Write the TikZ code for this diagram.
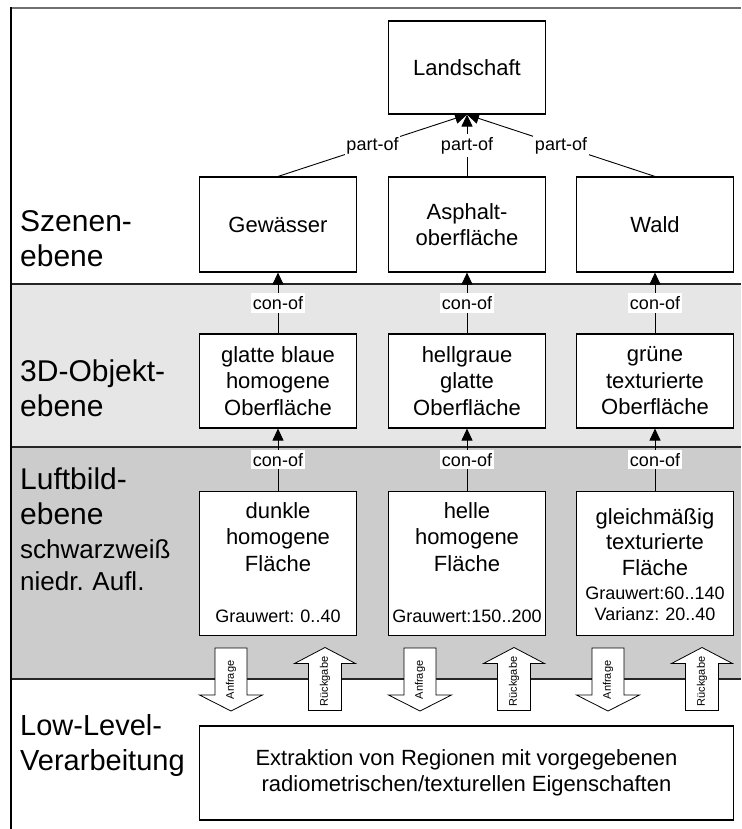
\documentclass[tikz,border=0pt]{standalone}
\usepackage{fontspec}
\setmainfont{Liberation Sans}
\usetikzlibrary{arrows.meta}
\frenchspacing
\definecolor{objband}{RGB}{230,230,230}
\definecolor{imgband}{RGB}{204,204,204}
\definecolor{rulegray}{RGB}{112,112,112}

% block arrow pointing down (top edge at #3), text rotated inside
\newcommand\reqarrow[4]{%
  \draw[blockarrow] (#2-16,#3) -- (#2+16,#3) -- (#2+16,#3+47) -- (#2+31.5,#3+47)
    -- (#2,#3+63) -- (#2-31.5,#3+47) -- (#2-16,#3+47) -- cycle;
  \node[arrowtext] (#1) at (#2,#3+32) {#4};}
% block arrow pointing up (tip at #3)
\newcommand\retarrow[4]{%
  \draw[blockarrow] (#2,#3) -- (#2+30.5,#3+16) -- (#2+16.5,#3+16) -- (#2+16.5,#3+63)
    -- (#2-16.5,#3+63) -- (#2-16.5,#3+16) -- (#2-30.5,#3+16) -- cycle;
  \node[arrowtext] (#1) at (#2,#3+34) {#4};}

\begin{document}
\begin{tikzpicture}[x=1pt,y=-1pt,
  box/.style={draw=black, line width=1.1pt, fill=white, minimum width=157pt,
    minimum height=94pt, inner sep=0pt, align=center,
    font=\fontsize{22}{26.5}\selectfont},
  boxtext/.style={inner sep=0pt, text width=150pt, align=center,
    font=\fontsize{22}{26.5}\selectfont},
  smalltext/.style={inner sep=0pt, text width=150pt, align=center,
    font=\fontsize{18}{21}\selectfont},
  rel/.style={line width=0.9pt, -{Triangle[length=12pt,width=11pt]}},
  rellabel/.style={fill=white, inner xsep=1.5pt, inner ysep=3pt,
    font=\fontsize{18}{20}\selectfont},
  level/.style={inner sep=0pt, text width=185pt, align=left,
    font=\fontsize{30}{35}\selectfont},
  sublevel/.style={inner sep=0pt, text width=185pt, align=left,
    font=\fontsize{26}{32}\selectfont},
  separator/.style={line width=1.3pt, draw=black!85},
  blockarrow/.style={draw=black, line width=0.8pt, fill=white, line join=miter},
  arrowtext/.style={rotate=90, inner sep=0pt, font=\fontsize{11}{12}\selectfont}
]
\useasboundingbox (0,0) rectangle (741,829);

% layer bands
\fill[objband] (11,284) rectangle (741,447);
\fill[imgband] (11,447) rectangle (741,679);
\draw[separator] (11,284) -- (741,284);
\draw[separator] (11,447) -- (741,447);
\draw[separator] (11,679) -- (741,679);
\draw[line width=2pt, draw=rulegray] (10,8) -- (741,8);
\draw[line width=1.3pt] (11,7) -- (11,829);

% layer titles
\node[level, anchor=base west] (tScene) at (20,231.7) {Szenen-\\ebene};
\node[level, anchor=base west] (tObj) at (20,381.7) {3D-Objekt-\\ebene};
\node[level, anchor=base west] (tImg) at (20,489) {Luftbild-\\ebene};
\node[sublevel, anchor=base west] (tImgSub) at (20,558) {schwarzweiß\\niedr. Aufl.};
\node[level, anchor=base west, font=\fontsize{29}{35}\selectfont] (tLow) at (20,735) {Low-Level-\\Verarbeitung};

% scene level
\node[box, minimum height=93pt] (land) at (467,67.5) {Landschaft};
\node[box, minimum height=95pt] (gew) at (278,224.5) {Gewässer};
\node[box, minimum height=95pt] (asph) at (467,224.5) {Asphalt-\\oberfläche};
\node[box, minimum height=95pt] (wald) at (655,224.5) {Wald};

% 3D object level
\node[box] (obj1) at (278,381) {glatte blaue\\homogene\\Oberfläche};
\node[box] (obj2) at (467,381) {hellgraue\\glatte\\Oberfläche};
\node[box] (obj3) at (655,381) {grüne\\texturierte\\Oberfläche};

% aerial image level
\node[box, minimum height=143.5pt] (img1) at (278,563.3) {};
\node[box, minimum height=143.5pt] (img2) at (467,563.3) {};
\node[box, minimum height=143.5pt] (img3) at (655,563.3) {};
\node[boxtext, anchor=base] (img1t) at (278,518) {dunkle\\homogene\\Fläche};
\node[boxtext, anchor=base] (img2t) at (467,518) {helle\\homogene\\Fläche};
\node[boxtext, anchor=base, font=\fontsize{22}{25.5}\selectfont] (img3t) at (655,524) {gleichmäßig\\texturierte\\Fläche};
\node[smalltext, anchor=base] (img1g) at (278,622) {Grauwert: 0..40};
\node[smalltext, anchor=base] (img2g) at (467,622) {Grauwert:150..200};
\node[smalltext, anchor=base] (img3g) at (655,599) {Grauwert:60..140\\Varianz: 20..40};

% low-level processing
\node[box, minimum width=534pt] (ext) at (466.5,773) {Extraktion von Regionen mit vorgegebenen\\radiometrischen/texturellen Eigenschaften};

% part-of relations
\draw[rel] (gew.north) -- node[rellabel] (p1) {part-of} (land.south);
\draw[rel] (asph.north) -- node[rellabel] (p2) {part-of} (land.south);
\draw[rel] (wald.north) -- node[rellabel] (p3) {part-of} (land.south);

% con-of relations
\draw[rel] (obj1.north) -- node[rellabel] (c1) {con-of} (gew.south);
\draw[rel] (obj2.north) -- node[rellabel] (c2) {con-of} (asph.south);
\draw[rel] (obj3.north) -- node[rellabel] (c3) {con-of} (wald.south);
\draw[rel] (img1.north) -- node[rellabel] (c4) {con-of} (obj1.south);
\draw[rel] (img2.north) -- node[rellabel] (c5) {con-of} (obj2.south);
\draw[rel] (img3.north) -- node[rellabel] (c6) {con-of} (obj3.south);

% requests and returns
\reqarrow{q1}{231}{648}{Anfrage}
\retarrow{r1}{325}{647.5}{Rückgabe}
\reqarrow{q2}{420}{648}{Anfrage}
\retarrow{r2}{514}{647.5}{Rückgabe}
\reqarrow{q3}{608}{648}{Anfrage}
\retarrow{r3}{702}{647.5}{Rückgabe}
\end{tikzpicture}
\end{document}
